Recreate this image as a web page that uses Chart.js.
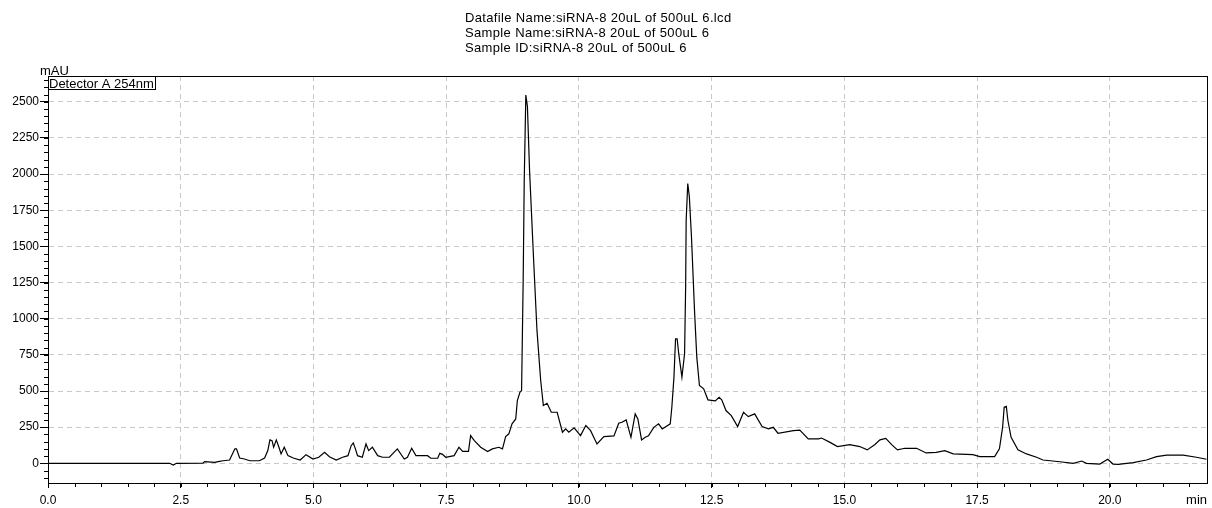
<!DOCTYPE html>
<html>
<head>
<meta charset="utf-8">
<title>Chromatogram</title>
<script src="https://cdn.jsdelivr.net/npm/chart.js@4"></script>
<style>
  html, body { margin: 0; padding: 0; background: #fff; }
  canvas { display: block; }
</style>
</head>
<body>
<canvas id="chromatogram" width="1212" height="508"></canvas>
<script>
const headerLines = [
    'Datafile Name:siRNA-8 20uL of 500uL 6.lcd',
    'Sample Name:siRNA-8 20uL of 500uL 6',
    'Sample ID:siRNA-8 20uL of 500uL 6'
];
const detectorLabel = 'Detector A 254nm';
const yUnit = 'mAU';
const xUnit = 'min';

// retention time (min) and signal (mAU)
const retentionTime = [
    0.00, 2.29, 2.36, 2.42, 2.92, 2.95, 3.14, 3.23, 3.30, 3.42,
    3.52, 3.55, 3.61, 3.70, 3.80, 3.98, 4.08, 4.14, 4.18, 4.22,
    4.25, 4.30, 4.35, 4.39, 4.45, 4.52, 4.62, 4.75, 4.86, 4.99,
    5.10, 5.21, 5.30, 5.43, 5.55, 5.65, 5.71, 5.75, 5.79, 5.83,
    5.92, 5.99, 6.04, 6.11, 6.21, 6.30, 6.43, 6.58, 6.71, 6.77,
    6.85, 6.93, 7.15, 7.21, 7.34, 7.38, 7.43, 7.49, 7.65, 7.74,
    7.81, 7.92, 7.96, 8.03, 8.15, 8.28, 8.37, 8.49, 8.56, 8.62,
    8.68, 8.74, 8.81, 8.84, 8.89, 8.92, 8.95, 8.97, 9.00, 9.03,
    9.07, 9.15, 9.21, 9.28, 9.33, 9.40, 9.48, 9.59, 9.69, 9.75,
    9.81, 9.91, 10.03, 10.13, 10.22, 10.34, 10.47, 10.66, 10.75, 10.81,
    10.89, 10.98, 11.06, 11.11, 11.18, 11.25, 11.31, 11.41, 11.50, 11.57,
    11.72, 11.75, 11.79, 11.82, 11.85, 11.88, 11.94, 11.99, 12.01, 12.02,
    12.05, 12.08, 12.12, 12.18, 12.22, 12.27, 12.35, 12.43, 12.57, 12.64,
    12.69, 12.77, 12.87, 12.99, 13.10, 13.19, 13.31, 13.45, 13.57, 13.66,
    13.75, 14.04, 14.16, 14.32, 14.51, 14.57, 14.73, 14.87, 15.10, 15.29,
    15.43, 15.57, 15.67, 15.78, 15.89, 16.00, 16.14, 16.36, 16.54, 16.73,
    16.89, 17.05, 17.42, 17.55, 17.83, 17.92, 17.98, 18.01, 18.05, 18.08,
    18.14, 18.27, 18.43, 18.62, 18.74, 19.06, 19.31, 19.47, 19.56, 19.81,
    19.96, 20.06, 20.16, 20.44, 20.69, 20.88, 21.07, 21.38, 21.63, 21.82
];
const absorbance = [
    0, 0, -12, 0, 2, 12, 7, 14, 18, 23,
    100, 100, 37, 30, 18, 18, 37, 88, 162, 157,
    111, 162, 111, 65, 111, 53, 37, 23, 60, 30,
    42, 76, 46, 23, 42, 53, 122, 141, 100, 53,
    42, 134, 88, 111, 53, 42, 42, 100, 30, 42,
    104, 53, 53, 35, 35, 69, 62, 42, 53, 111,
    83, 83, 192, 157, 111, 81, 100, 111, 100, 185,
    204, 273, 307, 434, 492, 503, 1265, 1958, 2546, 2466,
    2027, 1381, 919, 573, 400, 415, 353, 353, 215, 238,
    215, 245, 192, 261, 226, 134, 185, 190, 277, 284,
    300, 180, 342, 307, 162, 180, 190, 249, 273, 238,
    273, 388, 596, 861, 861, 758, 596, 758, 1219, 1681,
    1935, 1842, 1565, 1035, 734, 538, 515, 439, 432, 457,
    439, 365, 330, 254, 353, 323, 342, 254, 238, 249,
    208, 226, 230, 169, 169, 175, 145, 116, 129, 116,
    93, 129, 162, 173, 129, 93, 104, 104, 72, 76,
    88, 65, 60, 46, 46, 100, 249, 388, 394, 296,
    180, 93, 65, 42, 23, 11, 0, 16, 0, -5,
    28, -5, -7, 5, 23, 46, 57, 57, 42, 28
];

const xTicks = [0, 2.5, 5, 7.5, 10, 12.5, 15, 17.5, 20];
const yTicks = [0, 250, 500, 750, 1000, 1250, 1500, 1750, 2000, 2250, 2500];
const xRange = [0, 21.83];
const yRange = [-136, 2678];

const font = '"Liberation Sans", Arial, sans-serif';

// small ticks between the labelled ones
function minorTicks(from, to, step) {
    const out = [];
    for (let v = from; v <= to + 1e-9; v += step) out.push(Math.round(v * 100) / 100);
    return out;
}
const xMinor = minorTicks(0, xRange[1], 0.5);
const yMinor = minorTicks(-100, yRange[1], 50);

const decorations = {
    id: 'decorations',
    afterDraw(chart) {
        const { ctx, chartArea: a } = chart;
        const xs = chart.scales.x, ys = chart.scales.y;
        ctx.save();
        ctx.strokeStyle = '#000';
        ctx.lineWidth = 1;

        // minor ticks
        ctx.beginPath();
        xMinor.forEach(v => {
            const px = Math.round(xs.getPixelForValue(v)) + 0.5;
            ctx.moveTo(px, a.bottom);
            ctx.lineTo(px, a.bottom + 4);
        });
        yMinor.forEach(v => {
            const py = Math.round(ys.getPixelForValue(v)) + 0.5;
            ctx.moveTo(a.left - 4, py);
            ctx.lineTo(a.left, py);
        });
        ctx.stroke();

        // frame
        ctx.strokeRect(a.left + 0.5, a.top + 0.5, a.right - a.left, a.bottom - a.top);

        ctx.fillStyle = '#000';
        ctx.font = '13px ' + font;
        ctx.textBaseline = 'alphabetic';
        ctx.letterSpacing = '0.35px';
        headerLines.forEach((line, i) => ctx.fillText(line, 465, 22 + i * 15));
        ctx.letterSpacing = '0px';
        ctx.fillText(yUnit, 40, 75);

        // detector label box
        ctx.fillStyle = '#fff';
        ctx.fillRect(a.left + 0.5, a.top + 0.5, 107, 13);
        ctx.strokeRect(a.left + 0.5, a.top + 0.5, 107, 13);
        ctx.fillStyle = '#000';
        ctx.fillText(detectorLabel, a.left + 1, a.top + 12);

        ctx.textAlign = 'right';
        ctx.fillText(xUnit, 1207, 504);
        ctx.restore();
    }
};

const ctx = document.getElementById('chromatogram').getContext('2d');
new Chart(ctx, {
    type: 'line',
    data: {
        datasets: [{
            label: detectorLabel,
            data: retentionTime.map((t, i) => ({ x: t, y: absorbance[i] })),
            borderColor: '#000',
            borderWidth: 1.2,
            pointRadius: 0,
            tension: 0,
            fill: false
        }]
    },
    options: {
        responsive: false,
        animation: false,
        layout: { padding: { top: 76, right: 5, left: 0, bottom: 0 } },
        plugins: {
            legend: { display: false },
            tooltip: { enabled: false }
        },
        scales: {
            x: {
                type: 'linear',
                min: xRange[0],
                max: xRange[1],
                afterBuildTicks: scale => { scale.ticks = xTicks.map(v => ({ value: v })); },
                afterFit: scale => { scale.height = 25; },
                ticks: {
                    autoSkip: false,
                    maxRotation: 0,
                    padding: 5,
                    color: '#000',
                    font: { family: font, size: 12 },
                    callback: v => v.toFixed(1)
                },
                grid: { color: '#c8c8c8', tickColor: '#000', tickLength: 5 },
                border: { display: true, color: '#000', dash: [5, 4] }
            },
            y: {
                min: yRange[0],
                max: yRange[1],
                afterBuildTicks: scale => { scale.ticks = yTicks.map(v => ({ value: v })); },
                afterFit: scale => { scale.width = 48; },
                ticks: {
                    padding: 1,
                    color: '#000',
                    font: { family: font, size: 12 },
                    callback: v => String(v)
                },
                grid: { color: '#c8c8c8', tickColor: '#000', tickLength: 8 },
                border: { display: true, color: '#000', dash: [5, 4] }
            }
        }
    },
    plugins: [decorations]
});
</script>
</body>
</html>
